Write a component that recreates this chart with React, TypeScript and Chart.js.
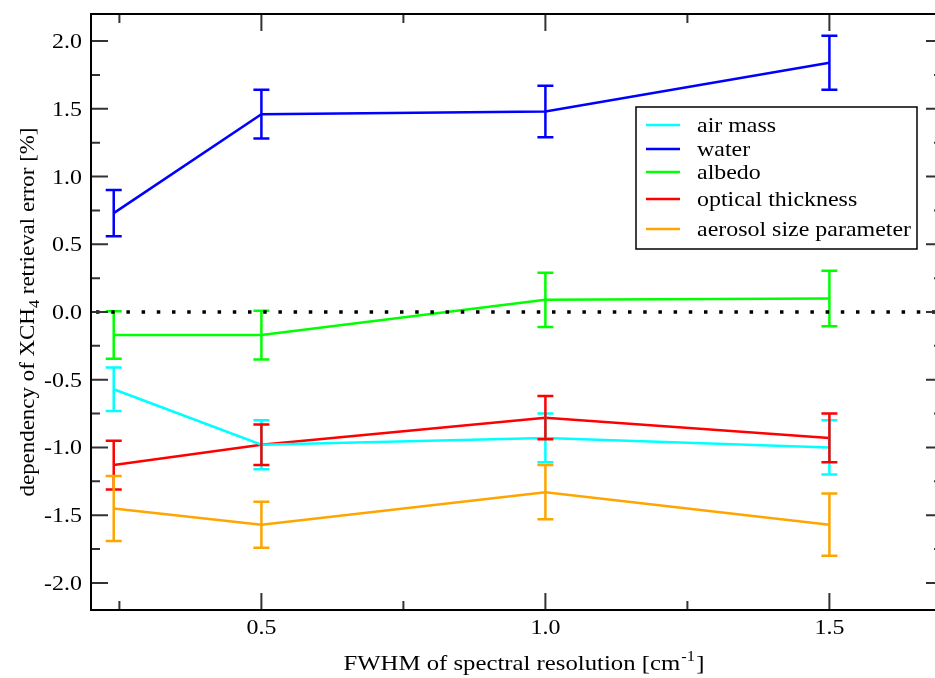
import React, { useEffect, useRef } from "react";
import { Chart, registerables } from "chart.js";

Chart.register(...registerables);

// ---- data ----
const xValues = [0.24, 0.5, 1.0, 1.5];
const seriesNames = ["air mass", "water", "albedo", "optical thickness", "aerosol size parameter"];
const seriesColors = ["#00ffff", "#0000ff", "#00ff00", "#ff0000", "#ffa500"];

const airMass = [-0.57, -0.98, -0.93, -1.0];
const airMassErr = [0.16, 0.18, 0.18, 0.2];
const water = [0.73, 1.46, 1.48, 1.84];
const waterErr = [0.17, 0.18, 0.19, 0.2];
const albedo = [-0.17, -0.17, 0.09, 0.1];
const albedoErr = [0.175, 0.18, 0.2, 0.205];
const optical = [-1.13, -0.98, -0.78, -0.93];
const opticalErr = [0.18, 0.15, 0.16, 0.18];
const aerosol = [-1.45, -1.57, -1.33, -1.57];
const aerosolErr = [0.24, 0.17, 0.2, 0.23];

const xTicks = [0.5, 1.0, 1.5];
const xMinorTicks = [0.25, 0.75, 1.25];
const yTicks = [-2.0, -1.5, -1.0, -0.5, 0.0, 0.5, 1.0, 1.5, 2.0];
const yMinorTicks = [-1.75, -1.25, -0.75, -0.25, 0.25, 0.75, 1.25, 1.75];
const xRange = [0.2, 1.7];
const yRange = [-2.2, 2.2];

const xTitle = "FWHM of spectral resolution [cm";
const xTitleSup = "-1";
const xTitleEnd = "]";
const yTitleA = "dependency of XCH";
const yTitleSub = "4";
const yTitleB = " retrieval error [%]";

const allValues = [airMass, water, albedo, optical, aerosol];
const allErrors = [airMassErr, waterErr, albedoErr, opticalErr, aerosolErr];

const FONT = "'Liberation Serif', 'Times New Roman', serif";
const SX = 1.14;
const FS = 21;

function drawStretched(ctx: any, text: string, x: number, y: number, align: string, size: number, sx: number) {
  ctx.save();
  ctx.font = `${size}px ${FONT}`;
  const w = ctx.measureText(text).width * sx;
  let left = x;
  if (align === "right") left = x - w;
  else if (align === "center") left = x - w / 2;
  ctx.translate(left, y);
  ctx.scale(sx, 1);
  ctx.textAlign = "left";
  ctx.fillText(text, 0, 0);
  ctx.restore();
  return w;
}

const customPlugin = {
  id: "custom",
  afterDatasetsDraw(chart: any) {
    const ctx = chart.ctx;
    const xs = chart.scales.x;
    const ys = chart.scales.y;
    const area = chart.chartArea;
    ctx.save();
    // error bars
    chart.data.datasets.forEach((ds: any) => {
      ctx.strokeStyle = ds.borderColor;
      ctx.lineWidth = 2.5;
      ds.data.forEach((p: any, j: number) => {
        const e = ds.errors[j];
        const px = xs.getPixelForValue(p.x);
        const y1 = ys.getPixelForValue(p.y + e);
        const y2 = ys.getPixelForValue(p.y - e);
        ctx.beginPath();
        ctx.moveTo(px, y1);
        ctx.lineTo(px, y2);
        ctx.moveTo(px - 8, y1);
        ctx.lineTo(px + 8, y1);
        ctx.moveTo(px - 8, y2);
        ctx.lineTo(px + 8, y2);
        ctx.stroke();
      });
    });
    // zero dotted line
    const y0 = ys.getPixelForValue(0);
    ctx.strokeStyle = "#000";
    ctx.lineWidth = 3.5;
    ctx.setLineDash([3.5, 11.7]);
    ctx.beginPath();
    ctx.moveTo(area.left + 5, y0);
    ctx.lineTo(area.right, y0);
    ctx.stroke();
    ctx.setLineDash([]);
    ctx.restore();
  },
  afterDraw(chart: any) {
    const ctx = chart.ctx;
    const xs = chart.scales.x;
    const ys = chart.scales.y;
    const a = chart.chartArea;
    ctx.save();
    // ticks
    ctx.strokeStyle = "#333";
    ctx.lineWidth = 2;
    const major = 17;
    const minor = 9;
    ctx.beginPath();
    xTicks.forEach((v) => {
      const px = xs.getPixelForValue(v);
      ctx.moveTo(px, a.bottom);
      ctx.lineTo(px, a.bottom - major);
      ctx.moveTo(px, a.top);
      ctx.lineTo(px, a.top + major);
    });
    xMinorTicks.forEach((v) => {
      const px = xs.getPixelForValue(v);
      ctx.moveTo(px, a.bottom);
      ctx.lineTo(px, a.bottom - minor);
      ctx.moveTo(px, a.top);
      ctx.lineTo(px, a.top + minor);
    });
    yTicks.forEach((v) => {
      const py = ys.getPixelForValue(v);
      ctx.moveTo(a.left, py);
      ctx.lineTo(a.left + major, py);
      ctx.moveTo(a.right, py);
      ctx.lineTo(a.right - major, py);
    });
    yMinorTicks.forEach((v) => {
      const py = ys.getPixelForValue(v);
      ctx.moveTo(a.left, py);
      ctx.lineTo(a.left + minor, py);
      ctx.moveTo(a.right, py);
      ctx.lineTo(a.right - minor, py);
    });
    ctx.stroke();
    // frame
    ctx.strokeStyle = "#000";
    ctx.lineWidth = 2;
    ctx.strokeRect(a.left, a.top, a.right - a.left, a.bottom - a.top);

    // tick labels
    ctx.fillStyle = "#000";
    ctx.textBaseline = "alphabetic";
    xs.ticks.forEach((t: any) => {
      const px = xs.getPixelForValue(t.value);
      drawStretched(ctx, Number(t.value).toFixed(1), px, a.bottom + 24, "center", FS, SX);
    });
    ys.ticks.forEach((t: any) => {
      const py = ys.getPixelForValue(t.value);
      drawStretched(ctx, Number(t.value).toFixed(1), a.left - 9, py + 7, "right", FS, SX);
    });

    // legend
    const lx = 636;
    const ly = 107;
    const lw = 281;
    const lh = 142;
    ctx.fillStyle = "#fff";
    ctx.fillRect(lx, ly, lw, lh);
    ctx.strokeStyle = "#000";
    ctx.lineWidth = 1.5;
    ctx.strokeRect(lx, ly, lw, lh);
    const rows = [18, 42, 65, 92, 122];
    chart.data.datasets.forEach((ds: any, i: number) => {
      const yy = ly + rows[i];
      ctx.strokeStyle = ds.borderColor;
      ctx.lineWidth = 2.5;
      ctx.beginPath();
      ctx.moveTo(lx + 10, yy);
      ctx.lineTo(lx + 44, yy);
      ctx.stroke();
      ctx.fillStyle = "#000";
      drawStretched(ctx, ds.label, lx + 61, yy + 7, "left", FS, SX);
    });

    // x title (stretched to its width in the original)
    ctx.fillStyle = "#000";
    ctx.font = `${FS}px ${FONT}`;
    const w1 = ctx.measureText(xTitle).width;
    const w3 = ctx.measureText(xTitleEnd).width;
    ctx.font = `14px ${FONT}`;
    const w2 = ctx.measureText(xTitleSup).width;
    const rawX = w1 + w2 + w3 + 2;
    const sxX = 361 / rawX;
    ctx.save();
    ctx.translate(524 - 361 / 2, 670);
    ctx.scale(sxX, 1);
    ctx.font = `${FS}px ${FONT}`;
    ctx.fillText(xTitle, 0, 0);
    ctx.font = `14px ${FONT}`;
    ctx.fillText(xTitleSup, w1 + 1, -9);
    ctx.font = `${FS}px ${FONT}`;
    ctx.fillText(xTitleEnd, w1 + w2 + 2, 0);
    ctx.restore();

    // y title
    ctx.save();
    ctx.translate(34, (a.top + a.bottom) / 2);
    ctx.rotate(-Math.PI / 2);
    ctx.font = `${FS}px ${FONT}`;
    const ya = ctx.measureText(yTitleA).width;
    const yb = ctx.measureText(yTitleB).width;
    ctx.font = `15px ${FONT}`;
    const ysub = ctx.measureText(yTitleSub).width;
    const rawY = ya + ysub + yb;
    const sxY = 369 / rawY;
    ctx.translate(-369 / 2, 0);
    ctx.scale(sxY, 1);
    ctx.font = `${FS}px ${FONT}`;
    ctx.fillText(yTitleA, 0, 0);
    ctx.font = `15px ${FONT}`;
    ctx.fillText(yTitleSub, ya, 5);
    ctx.font = `${FS}px ${FONT}`;
    ctx.fillText(yTitleB, ya + ysub, 0);
    ctx.restore();

    ctx.restore();
  },
};

export default function App() {
  const ref = useRef<HTMLCanvasElement | null>(null);
  useEffect(() => {
    if (!ref.current) return;
    const datasets = seriesNames.map((name, i) => ({
      label: name,
      data: xValues.map((x, j) => ({ x, y: allValues[i][j] })),
      errors: allErrors[i],
      borderColor: seriesColors[i],
      backgroundColor: seriesColors[i],
      borderWidth: 2.5,
      pointRadius: 0,
      tension: 0,
      fill: false,
    }));
    const chart = new Chart(ref.current, {
      type: "line",
      data: { datasets } as any,
      options: {
        responsive: false,
        animation: false,
        devicePixelRatio: 1,
        layout: { padding: { left: 0, top: 14, right: 17, bottom: 0 } },
        plugins: { legend: { display: false }, tooltip: { enabled: false }, title: { display: false } },
        scales: {
          x: {
            type: "linear",
            min: xRange[0],
            max: xRange[1],
            grid: { display: false, drawTicks: false },
            border: { display: false },
            afterBuildTicks: (s: any) => {
              s.ticks = xTicks.map((v) => ({ value: v }));
            },
            afterFit: (s: any) => {
              s.height = 68;
              s.paddingLeft = 0;
              s.paddingRight = 0;
              s.paddingTop = 0;
              s.paddingBottom = 0;
            },
            ticks: { display: false },
          },
          y: {
            type: "linear",
            min: yRange[0],
            max: yRange[1],
            grid: { display: false, drawTicks: false },
            border: { display: false },
            afterBuildTicks: (s: any) => {
              s.ticks = yTicks.map((v) => ({ value: v }));
            },
            afterFit: (s: any) => {
              s.width = 91;
              s.paddingLeft = 0;
              s.paddingRight = 0;
              s.paddingTop = 0;
              s.paddingBottom = 0;
            },
            ticks: { display: false },
          },
        },
      } as any,
      plugins: [customPlugin],
    });
    return () => chart.destroy();
  }, []);
  return (
    <div
      style={{
        position: "fixed",
        left: 0,
        top: 0,
        width: 935,
        height: 678,
        overflow: "hidden",
        background: "#fff",
      }}
    >
      <canvas ref={ref} width={960} height={678} style={{ display: "block", width: 960, height: 678 }} />
    </div>
  );
}
